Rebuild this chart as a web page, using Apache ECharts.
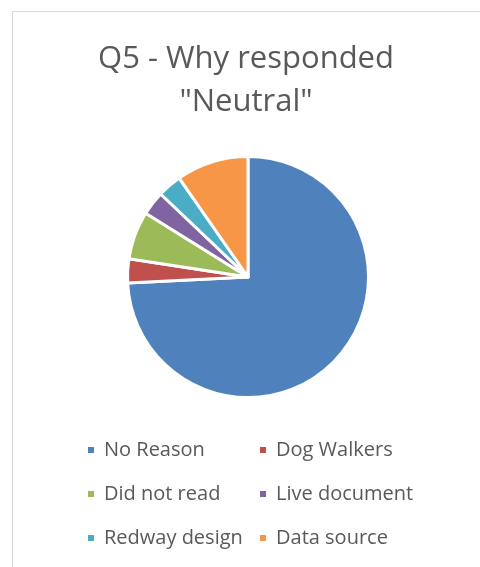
<!DOCTYPE html>
<html>
<head>
<meta charset="utf-8">
<script src="https://cdn.jsdelivr.net/npm/echarts@6/dist/echarts.min.js"></script>
<style>
  html, body { margin: 0; padding: 0; background: #ffffff; }
  #chart { width: 480px; height: 567px; }
</style>
</head>
<body>
<div id="chart"></div>
<script>
// Survey answers: reasons given for a "Neutral" response
const categories = ['No Reason', 'Dog Walkers', 'Did not read', 'Live document', 'Redway design', 'Data source'];
const counts = [23, 1, 2, 1, 1, 3];
const colors = ['#4F81BD', '#C0504D', '#9BBB59', '#8064A2', '#4BACC6', '#F79646'];
const titleLines = ['Q5 - Why responded', '"Neutral"'];

const FONT = '"Open Sans", "Noto Sans", sans-serif';
const chart = echarts.init(document.getElementById('chart'), null, { renderer: 'canvas' });

const pieData = categories.map((name, i) => ({
  name: name,
  value: counts[i],
  itemStyle: { color: colors[i] }
}));

// Legend is laid out as two columns of three entries
const leftColumn = categories.filter((_, i) => i % 2 === 0);
const rightColumn = categories.filter((_, i) => i % 2 === 1);
const legendBase = {
  orient: 'vertical',
  top: 438,
  padding: 0,
  itemWidth: 8,
  itemHeight: 8,
  itemGap: 20,
  icon: 'rect',
  selectedMode: false,
  textStyle: { color: '#595959', fontSize: 20, fontFamily: FONT, lineHeight: 24, padding: [0, 0, 0, 4] }
};

chart.setOption({
  animation: false,
  backgroundColor: '#ffffff',
  graphic: [
    {
      type: 'rect',
      silent: true,
      shape: { x: 12.5, y: 11.5, width: 520, height: 620 },
      style: { fill: 'none', stroke: '#d9d9d9', lineWidth: 1 }
    },
    {
      type: 'text',
      silent: true,
      x: 246,
      y: 37,
      style: {
        text: titleLines.join('\n'),
        fill: '#595959',
        font: '31px ' + FONT,
        lineHeight: 43.5,
        textAlign: 'center',
        textVerticalAlign: 'top'
      }
    }
  ],
  legend: [
    Object.assign({}, legendBase, { left: 86, data: leftColumn }),
    Object.assign({}, legendBase, { left: 258, data: rightColumn })
  ],
  series: [{
    type: 'pie',
    center: [248, 277],
    radius: 120.5,
    startAngle: 90,
    clockwise: true,
    label: { show: false },
    labelLine: { show: false },
    emphasis: { disabled: true },
    itemStyle: { borderColor: '#ffffff', borderWidth: 3 },
    data: pieData
  }]
});
</script>
</body>
</html>
